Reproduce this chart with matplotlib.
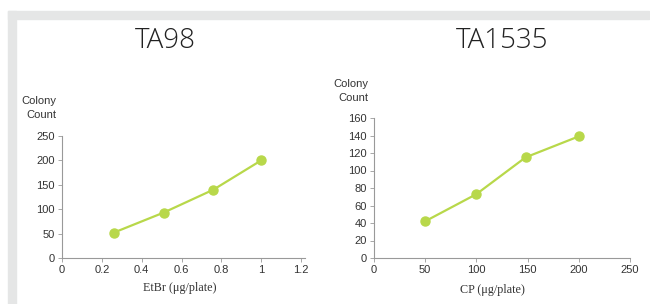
import matplotlib.pyplot as plt
from matplotlib.patches import Rectangle

# data
etbr_dose = [0.26, 0.51, 0.76, 1.0]
ta98_count = [52, 93, 140, 200]
cp_dose = [50, 100, 148, 200]
ta1535_count = [42, 73, 115, 139]

W, H = 650, 304
green = '#b8d84a'
frame_grey = '#e5e6e6'
text_grey = '#333333'

fig = plt.figure(figsize=(W / 100, H / 100), dpi=100)
fig.patch.set_facecolor('white')


def px(x0, y0, w, h):
    # pixel box (top-left origin) -> figure fraction
    return [x0 / W, 1 - (y0 + h) / H, w / W, h / H]


# light grey frame (top and left strips)
fig.patches.append(Rectangle((8 / W, 1 - 19 / H), 641 / W, 8 / H,
                             transform=fig.transFigure, color=frame_grey, zorder=0))
fig.patches.append(Rectangle((8 / W, 0), 8 / W, 1 - 11 / H,
                             transform=fig.transFigure, color=frame_grey, zorder=0))


def style(ax):
    for s in ['top', 'right']:
        ax.spines[s].set_visible(False)
    for s in ['left', 'bottom']:
        ax.spines[s].set_color('#999999')
        ax.spines[s].set_linewidth(0.8)
    ax.tick_params(length=3, width=0.6, color='#999999', labelsize=8,
                   labelcolor=text_grey, pad=2)
    for lab in ax.get_xticklabels() + ax.get_yticklabels():
        lab.set_family('Liberation Sans')


# TA98
ax1 = fig.add_axes(px(62, 136, 243, 122))
ax1.plot(etbr_dose, ta98_count, color=green, lw=1.6, marker='o', ms=6.5)
ax1.set_xlim(0, 1.22)
ax1.set_ylim(0, 250)
ax1.set_xticks([0, 0.2, 0.4, 0.6, 0.8, 1, 1.2])
ax1.set_xticklabels(['0', '0.2', '0.4', '0.6', '0.8', '1', '1.2'])
ax1.set_yticks(range(0, 251, 50))
style(ax1)

# TA1535
ax2 = fig.add_axes(px(374, 118, 256, 140))
ax2.plot(cp_dose, ta1535_count, color=green, lw=1.6, marker='o', ms=6.5)
ax2.set_xlim(0, 250)
ax2.set_ylim(0, 160)
ax2.set_xticks(range(0, 251, 50))
ax2.set_yticks(range(0, 161, 20))
style(ax2)

# titles
fig.text(165 / W, 1 - 41 / H, 'TA98', ha='center', va='center', fontsize=20,
         family='Open Sans', weight='light', color='#222222')
fig.text(502 / W, 1 - 41 / H, 'TA1535', ha='center', va='center', fontsize=20,
         family='Open Sans', weight='light', color='#222222')

# y labels
fig.text(56 / W, 1 - 108 / H, 'Colony\nCount', ha='right', va='center', fontsize=8,
         family='Liberation Sans', color=text_grey, linespacing=1.5)
fig.text(368 / W, 1 - 91 / H, 'Colony\nCount', ha='right', va='center', fontsize=8,
         family='Liberation Sans', color=text_grey, linespacing=1.5)

# x labels
fig.text(180 / W, 1 - 288 / H, 'EtBr (\u03bcg/plate)', ha='center', va='center',
         fontsize=8.7, family='Liberation Serif', color=text_grey)
fig.text(492 / W, 1 - 290 / H, 'CP (\u03bcg/plate)', ha='center', va='center',
         fontsize=8.7, family='Liberation Serif', color=text_grey)

fig.savefig('out.png', dpi=100)
